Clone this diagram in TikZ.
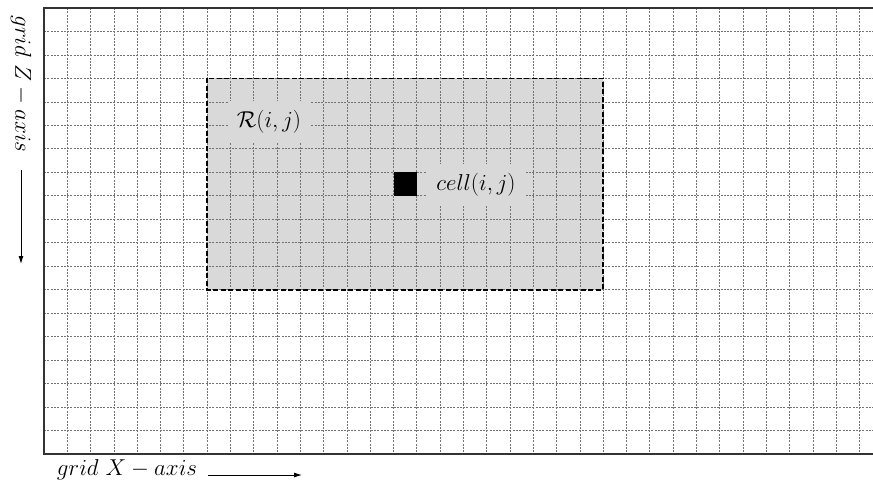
\documentclass[tikz,border=0pt]{standalone}
\usetikzlibrary{arrows.meta}
\begin{document}
\begin{tikzpicture}[x=1pt,y=-1pt,
  gridline/.style={black!55,line width=0.7pt,dash pattern=on 2pt off 1.3pt},
  frameline/.style={black!80,line width=2.6pt},
  regionbox/.style={fill=black!15},
  regionborder/.style={black,line width=1.8pt,dash pattern=on 5pt off 2.5pt},
  lbl/.style={inner sep=0pt,font=\LARGE,scale=1.33},
  graylbl/.style={lbl,fill=black!15,inner xsep=7pt,inner ysep=7pt},
  axisarrow/.style={-{Latex[length=8pt,width=5pt]},line width=0.9pt}]
\useasboundingbox (0,0) rectangle (873,491);
\def\gx{23.3}
\def\gy{23.47}
% region fill
\fill[regionbox] (44+7*\gx,8+3*\gy) rectangle (44+24*\gx,8+12*\gy);
% grid
\foreach \k in {1,...,35} \draw[gridline] (44+\k*\gx,8) -- (44+\k*\gx,454);
\foreach \k in {1,...,18} \draw[gridline] (44,8+\k*\gy) -- (873,8+\k*\gy);
% frame
\draw[frameline] (873,8) -- (44,8) -- (44,454) -- (873,454);
% region border
\coordinate (rtl) at (44+7*\gx,8+3*\gy);
\coordinate (rbr) at (44+24*\gx,8+12*\gy);
\draw[regionborder] (rtl) rectangle (rbr);
% labels inside
\node[graylbl] (rlabel) at (269,122) {$\mathcal{R}(i,j)$};
\node[graylbl] (clabel) at (476,185) {$cell(i,j)$};
\fill[black] (44+15*\gx,8+7*\gy) rectangle (44+16*\gx,8+8*\gy);
% axis labels
\node[lbl,rotate=-90] (zlabel) at (21,84) {$grid\ Z - axis$};
\coordinate (zs) at (21,170);
\coordinate (ze) at (21,264);
\draw[axisarrow] (zs) -- (ze);
\node[lbl] (xlabel) at (127,470) {$grid\ X - axis$};
\coordinate (xs) at (208,475);
\coordinate (xe) at (302,475);
\draw[axisarrow] (xs) -- (xe);
\end{tikzpicture}
\end{document}
